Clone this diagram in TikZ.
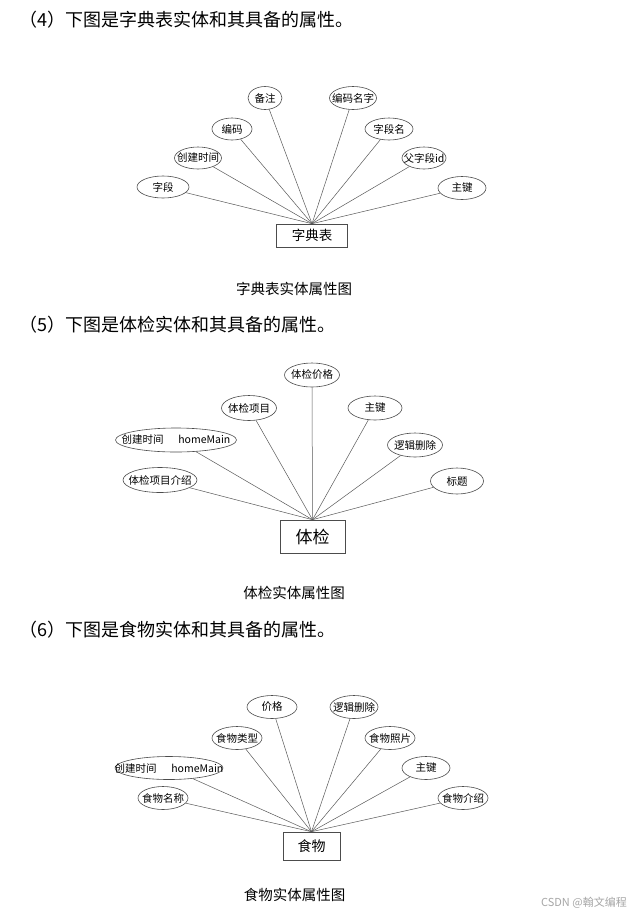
\documentclass[tikz,border=0pt]{standalone}
\usepackage{fontspec}
\setmainfont{Noto Sans CJK SC}
\usetikzlibrary{shapes.geometric}
\newcommand\attrnode[6]{%
  \node[attr,minimum width=#4pt,minimum height=#5pt] (#1) at (#2,#3) {};
  \node[atext] (#1-t) at (#1) {#6};}
\begin{document}
\begin{tikzpicture}[x=1pt,y=-1pt,
  attr/.style={draw=black!70, line width=0.6pt, ellipse, inner sep=0pt},
  atext/.style={inner sep=0pt, font=\fontsize{10.5}{10.5}\selectfont},
  ent/.style={draw=black!70, line width=0.6pt, rectangle, inner sep=0pt},
  link/.style={draw=black!65, line width=0.5pt},
  heading/.style={anchor=west, inner sep=0pt, font=\fontsize{18}{18}\selectfont},
  caption/.style={inner sep=0pt, font=\fontsize{14.5}{14.5}\selectfont},
  wm/.style={inner sep=0pt, text=black!35, font=\fontsize{11}{11}\selectfont}]
\useasboundingbox[fill=white] (0,0) rectangle (632,914);

% ---------- (4) ----------
\node[heading] (h1) at (19,20) {（4）下图是字典表实体和其具备的属性。};
\node[ent, minimum width=71pt, minimum height=23pt, font=\fontsize{13.5}{13.5}\selectfont] (d) at (312,235.5) {字典表};
\attrnode{d1}{163}{187}{52}{22}{字段}
\attrnode{d2}{198}{158}{47}{22}{创建时间}
\attrnode{d3}{232}{129}{40}{22}{编码}
\attrnode{d4}{265}{98}{34}{23}{备注}
\attrnode{d5}{353}{98}{47}{23}{编码名字}
\attrnode{d6}{389}{129}{48}{22}{字段名}
\attrnode{d7}{424}{158}{44}{22}{父字段id}
\attrnode{d8}{462}{188}{48}{23}{主键}
\foreach \i in {1,...,8} \draw[link] (d\i) -- (d.north);
\node[caption] (c1) at (294,289) {字典表实体属性图};

% ---------- (5) ----------
\node[heading] (h2) at (19,325) {（5）下图是体检实体和其具备的属性。};
\node[ent, minimum width=65pt, minimum height=33pt, font=\fontsize{17}{17}\selectfont] (t) at (312.5,536.5) {体检};
\attrnode{t1}{160}{480}{74}{25}{体检项目介绍}
\attrnode{t2}{176}{440}{121}{24}{创建时间\hspace{1.4em}homeMain}
\attrnode{t3}{249}{408}{55}{25}{体检项目}
\attrnode{t4}{312}{375}{55}{24}{体检价格}
\attrnode{t5}{375}{408}{54}{24}{主键}
\attrnode{t6}{415}{445}{55}{24}{逻辑删除}
\attrnode{t7}{457}{481}{53}{26}{标题}
\foreach \i in {1,...,7} \draw[link] (t\i) -- (t.north);
\node[caption] (c2) at (294,593) {体检实体属性图};

% ---------- (6) ----------
\node[heading] (h3) at (19,630) {（6）下图是食物实体和其具备的属性。};
\node[ent, minimum width=57pt, minimum height=28pt, font=\fontsize{14}{14}\selectfont] (f) at (311.5,846) {食物};
\attrnode{f1}{163}{798}{50}{23}{食物名称}
\attrnode{f2}{169}{768}{108}{23}{创建时间\hspace{1.4em}homeMain}
\attrnode{f3}{237}{738}{50}{23}{食物类型}
\attrnode{f4}{272}{707}{50}{23}{价格}
\attrnode{f5}{354}{707}{48}{23}{逻辑删除}
\attrnode{f6}{390}{738}{50}{23}{食物照片}
\attrnode{f7}{426}{768}{48}{23}{主键}
\attrnode{f8}{463}{798}{50}{23}{食物介绍}
\foreach \i in {1,...,8} \draw[link] (f\i) -- (f.north);
\node[caption] (c3) at (294.5,895) {食物实体属性图};

\node[wm, anchor=east] (w) at (627,903) {CSDN @翰文编程};
\end{tikzpicture}
\end{document}
